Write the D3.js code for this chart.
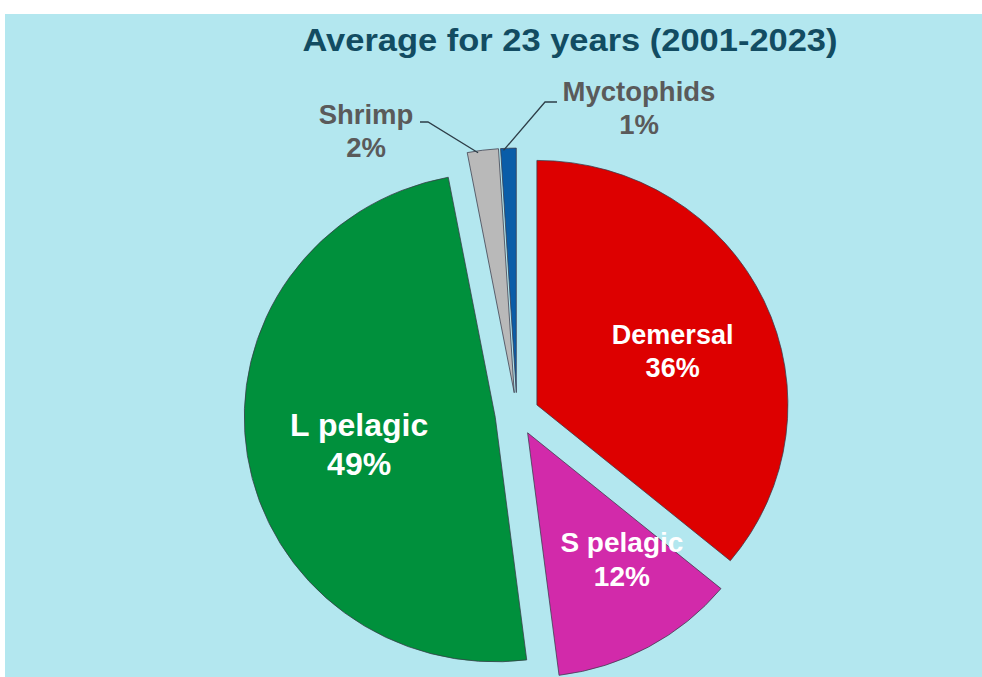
<!DOCTYPE html>
<html>
<head>
<meta charset="utf-8">
<script src="https://cdn.jsdelivr.net/npm/d3@7/dist/d3.min.js"></script>
<style>
  html, body { margin: 0; padding: 0; background: #ffffff; }
  svg { display: block; }
</style>
</head>
<body>
<svg id="chart" width="982" height="677"></svg>
<script>
// Catch composition, average share over 2001-2023 (%)
const categories = ["Demersal", "S pelagic", "L pelagic", "Shrimp", "Myctophids"];
const shares = [36, 12, 49, 2, 1];
const colors = ["#dd0000", "#d22aaa", "#00903c", "#b9b9b9", "#0a5da8"];
const titleText = "Average for 23 years (2001-2023)";

const W = 982, H = 677;
const fontFam = "'Liberation Sans', Arial, sans-serif";
const svg = d3.select("#chart");

// panel background
svg.append("rect").attr("x", 5).attr("y", 14).attr("width", W - 5).attr("height", H - 14)
  .attr("fill", "#b3e7ef");

// title
svg.append("text")
  .attr("x", 570).attr("y", 51)
  .attr("text-anchor", "middle")
  .attr("font-family", fontFam)
  .attr("font-weight", "bold")
  .attr("font-size", 32)
  .attr("fill", "#124c62")
  .attr("textLength", 535)
  .attr("lengthAdjust", "spacingAndGlyphs")
  .text(titleText);

// pie geometry (slightly flattened vertically)
const cx = 517, cy = 414, R = 251, explode = 22, sy = 0.974;
const data = categories.map((c, i) => ({ name: c, value: shares[i], color: colors[i] }));
const pie = d3.pie().value(d => d.value).sort(null).startAngle(0).endAngle(2 * Math.PI);
const arcs = pie(data);
const arc = d3.arc().innerRadius(0).outerRadius(R);

const midA = a => (a.startAngle + a.endAngle) / 2;
// point at distance r along a direction, in page coordinates
function polar(angle, r) {
  return [cx + Math.sin(angle) * r, cy - Math.cos(angle) * r * sy];
}

const g = svg.append("g").attr("transform", `translate(${cx},${cy}) scale(1,${sy})`);

g.selectAll("path.slice").data(arcs).enter().append("path")
  .attr("class", "slice")
  .attr("transform", d => {
    const m = midA(d);
    return `translate(${Math.sin(m) * explode},${-Math.cos(m) * explode})`;
  })
  .attr("d", arc)
  .attr("fill", d => d.data.color)
  .attr("stroke", "#3a3a4a")
  .attr("stroke-opacity", 0.75)
  .attr("stroke-width", 1)
  .attr("vector-effect", "non-scaling-stroke");

// labels inside the large slices
const insideStyle = {
  "Demersal": { size: 27, r: 150, dx: 0, dy: 5 },
  "S pelagic": { size: 28, r: 150, dx: 22, dy: -5 },
  "L pelagic": { size: 32, r: 150, dx: 12, dy: 0 }
};
const inside = arcs.filter(d => d.data.value >= 10);
inside.forEach(d => {
  const s = insideStyle[d.data.name];
  const p = polar(midA(d), explode + s.r);
  const t = svg.append("text")
    .attr("text-anchor", "middle")
    .attr("font-family", fontFam)
    .attr("font-weight", "bold")
    .attr("font-size", s.size)
    .attr("fill", "#ffffff")
    .attr("transform", `translate(${p[0] + s.dx},${p[1] + s.dy})`);
  t.append("tspan").attr("x", 0).attr("dy", "-0.12em").text(d.data.name);
  t.append("tspan").attr("x", 0).attr("dy", "1.2em").text(d.data.value + "%");
});

// labels outside the thin slices, with leader lines
const outside = arcs.filter(d => d.data.value < 10);
const outPos = {
  "Shrimp": { tx: 366, ty: 124, lx: 420, ly: 122, elbow: 428 },
  "Myctophids": { tx: 639, ty: 101, lx: 557, ly: 102, elbow: 545 }
};
outside.forEach(d => {
  const p = outPos[d.data.name];
  const m = midA(d);
  const apex = polar(m, explode);
  const ex = apex[0] + Math.sin(m - 0.02) * (R - 2);
  const ey = apex[1] - Math.cos(m - 0.02) * (R - 2) * sy;
  svg.append("polyline")
    .attr("points", `${p.lx},${p.ly} ${p.elbow},${p.ly} ${ex},${ey}`)
    .attr("fill", "none")
    .attr("stroke", "#2e3e48")
    .attr("stroke-width", 1.3);
  const t = svg.append("text")
    .attr("text-anchor", "middle")
    .attr("font-family", fontFam)
    .attr("font-weight", "bold")
    .attr("font-size", 27.5)
    .attr("fill", "#5a5a5a")
    .attr("transform", `translate(${p.tx},${p.ty})`);
  t.append("tspan").attr("x", 0).attr("dy", 0).text(d.data.name);
  t.append("tspan").attr("x", 0).attr("dy", 33).text(d.data.value + "%");
});
</script>
</body>
</html>
